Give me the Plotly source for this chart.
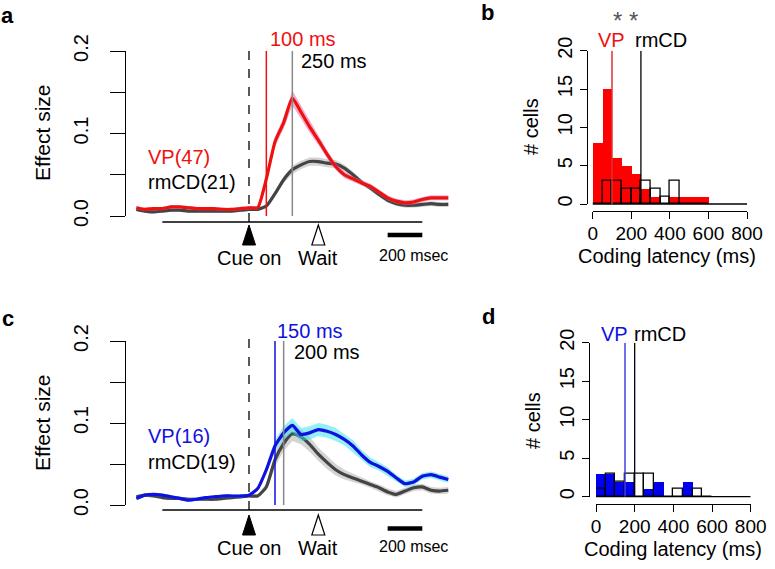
import plotly.graph_objects as go

W, H = 775, 569
FONT = "Liberation Sans, Arial, sans-serif"

# ---- time courses (panels a, c), sampled every 50 ms around cue onset
time_ms = list(range(-650, 1151, 50))

vp_a = [0.010, 0.008, 0.009, 0.009, 0.011, 0.011, 0.010, 0.009, 0.009, 0.009,
        0.008, 0.008, 0.009, 0.010, 0.010, 0.045, 0.090, 0.113, 0.143, 0.126,
        0.108, 0.092, 0.075, 0.060, 0.050, 0.045, 0.040, 0.036, 0.029, 0.022,
        0.018, 0.016, 0.017, 0.020, 0.022, 0.022, 0.022]
vp_a_se = [0.002] * 15 + [0.004, 0.006, 0.007, 0.009, 0.008, 0.007, 0.006,
                          0.005, 0.004, 0.004, 0.003] + [0.003] * 11
rmcd_a = [0.008, 0.006, 0.005, 0.006, 0.007, 0.007, 0.006, 0.006, 0.006, 0.006,
          0.006, 0.006, 0.007, 0.008, 0.008, 0.012, 0.027, 0.044, 0.056, 0.062,
          0.066, 0.066, 0.064, 0.063, 0.058, 0.050, 0.041, 0.034, 0.026, 0.019,
          0.015, 0.013, 0.013, 0.014, 0.015, 0.014, 0.014]
rmcd_a_se = [0.002] * 15 + [0.002, 0.003, 0.004, 0.005, 0.005, 0.005, 0.005,
                            0.005, 0.005, 0.004, 0.004] + [0.003] * 11

vp_c = [0.008, 0.012, 0.013, 0.012, 0.010, 0.008, 0.006, 0.007, 0.009, 0.010,
        0.011, 0.011, 0.011, 0.012, 0.020, 0.043, 0.072, 0.088, 0.097, 0.086,
        0.088, 0.092, 0.090, 0.086, 0.080, 0.072, 0.061, 0.052, 0.047, 0.041,
        0.033, 0.026, 0.028, 0.035, 0.037, 0.034, 0.031]
vp_c_se = [0.002] * 15 + [0.004, 0.007, 0.008, 0.009, 0.008, 0.008, 0.008,
                          0.008, 0.008, 0.007, 0.007] + \
          [0.006, 0.006, 0.005, 0.005, 0.004, 0.004, 0.004, 0.004, 0.004, 0.004, 0.004]
rmcd_c = [0.010, 0.012, 0.011, 0.009, 0.008, 0.008, 0.007, 0.007, 0.007, 0.007,
          0.008, 0.009, 0.010, 0.011, 0.011, 0.022, 0.055, 0.075, 0.087, 0.083,
          0.074, 0.062, 0.052, 0.043, 0.037, 0.033, 0.029, 0.025, 0.021, 0.016,
          0.013, 0.017, 0.021, 0.022, 0.018, 0.017, 0.018]
rmcd_c_se = [0.002] * 15 + [0.004, 0.008, 0.009, 0.009, 0.009, 0.009, 0.008,
                            0.008, 0.007, 0.006, 0.005] + [0.004] * 11

# median coding latencies (ms) and task events
lat_vp_a, lat_rmcd_a = 100, 250
lat_vp_c, lat_rmcd_c = 150, 200
CUE_MS, WAIT_MS = 0, 400
TASK_START, TASK_END = -500, 1000
SCALE_BAR = (800, 1000)

# ---- latency histograms (panels b, d), 50 ms bins
bin_left = list(range(0, 600, 50))
vp_b_counts = [8, 15, 6, 5, 4, 2, 1, 0, 1, 1, 1, 1]
rmcd_b_counts = [0, 3, 3, 2, 2, 3, 2, 1, 3, 0, 0, 0]
vp_d_counts = [3, 3, 2, 2, 0, 1, 2, 0, 0, 2, 0, 0]
rmcd_d_counts = [1, 3, 2, 3, 3, 3, 0, 0, 1, 0, 1, 0]

RED = "#f01010"
BLUE = "#1010e0"
DGRAY = "#444444"


def fx(px):
    return px / W


def fy(py):
    return 1 - py / H


# horizontal geometry of the time-course panels
CUE_PX, PX_PER_MS = 249, 0.1733
XR = [-700, 1200]
X_DOM = [fx(CUE_PX + XR[0] * PX_PER_MS), fx(CUE_PX + XR[1] * PX_PER_MS)]

fig = go.Figure()


def band(x, y, se, color, xa, ya):
    up = [v + s for v, s in zip(y, se)]
    lo = [v - s for v, s in zip(y, se)]
    fig.add_trace(go.Scatter(
        x=x + x[::-1], y=up + lo[::-1], fill="toself", fillcolor=color,
        line=dict(width=0), mode="lines", hoverinfo="skip",
        showlegend=False, xaxis=xa, yaxis=ya))


def curve(x, y, color, width, xa, ya):
    fig.add_trace(go.Scatter(
        x=x, y=y, mode="lines", line=dict(color=color, width=width, shape="spline", smoothing=0.5),
        showlegend=False, xaxis=xa, yaxis=ya))


# panel a
band(time_ms, rmcd_a, rmcd_a_se, "rgba(170,170,170,0.5)", "x", "y")
curve(time_ms, rmcd_a, DGRAY, 3.2, "x", "y")
band(time_ms, vp_a, vp_a_se, "rgba(225,110,170,0.55)", "x", "y")
curve(time_ms, vp_a, RED, 3.2, "x", "y")

# panel c
band(time_ms, rmcd_c, rmcd_c_se, "rgba(170,170,170,0.5)", "x3", "y3")
curve(time_ms, rmcd_c, DGRAY, 3.2, "x3", "y3")
band(time_ms, vp_c, vp_c_se, "rgba(40,225,235,0.5)", "x3", "y3")
curve(time_ms, vp_c, BLUE, 3.2, "x3", "y3")

# panels b, d histograms
centers = [b + 25 for b in bin_left]
fig.add_trace(go.Bar(x=centers, y=vp_b_counts, width=50, marker=dict(color="#ff0000", line=dict(width=0)),
                     showlegend=False, xaxis="x2", yaxis="y2"))
fig.add_trace(go.Bar(x=centers, y=rmcd_b_counts, width=50,
                     marker=dict(color="rgba(0,0,0,0)", line=dict(color="black", width=1.3)),
                     showlegend=False, xaxis="x2", yaxis="y2"))
fig.add_trace(go.Bar(x=centers, y=vp_d_counts, width=50, marker=dict(color="#0000ee", line=dict(width=0)),
                     showlegend=False, xaxis="x4", yaxis="y4"))
fig.add_trace(go.Bar(x=centers, y=rmcd_d_counts, width=50,
                     marker=dict(color="rgba(0,0,0,0)", line=dict(color="black", width=1.3)),
                     showlegend=False, xaxis="x4", yaxis="y4"))

shapes = []
ann = []


def text(x, y, s, size=20, color="black", **kw):
    d = dict(x=fx(x), y=fy(y), xref="paper", yref="paper", text=s, showarrow=False,
             font=dict(family=FONT, size=size, color=color), xanchor="center", yanchor="middle")
    d.update(kw)
    ann.append(d)


def timecourse_decor(xr, yr, top, axis_py, tri_top, tri_bot, bar_py, lab_py,
                     lat_col_val, lat_gray_val, col):
    # task time line
    shapes.append(dict(type="line", xref=xr, yref="paper", x0=TASK_START, x1=TASK_END,
                       y0=fy(axis_py), y1=fy(axis_py), line=dict(color="black", width=1.3)))
    # cue onset dashed
    shapes.append(dict(type="line", xref=xr, yref="paper", x0=CUE_MS, x1=CUE_MS,
                       y0=fy(axis_py), y1=fy(top - 2), line=dict(color="black", width=1.3, dash="dash")))
    # latency markers
    shapes.append(dict(type="line", xref=xr, yref=yr, x0=lat_gray_val, x1=lat_gray_val,
                       y0=0, y1=0.2, line=dict(color="#888888", width=1.5)))
    shapes.append(dict(type="line", xref=xr, yref=yr, x0=lat_col_val, x1=lat_col_val,
                       y0=0, y1=0.2, line=dict(color=col, width=1.5)))
    hw = 6.5 / PX_PER_MS
    shapes.append(dict(type="path", xref=xr, yref="paper",
                       path=f"M {CUE_MS - hw} {fy(tri_bot)} L {CUE_MS + hw} {fy(tri_bot)} L {CUE_MS} {fy(tri_top)} Z",
                       fillcolor="black", line=dict(color="black", width=1)))
    shapes.append(dict(type="path", xref=xr, yref="paper",
                       path=f"M {WAIT_MS - hw} {fy(tri_bot)} L {WAIT_MS + hw} {fy(tri_bot)} L {WAIT_MS} {fy(tri_top)} Z",
                       fillcolor="white", line=dict(color="black", width=1.2)))
    shapes.append(dict(type="line", xref=xr, yref="paper", x0=SCALE_BAR[0], x1=SCALE_BAR[1],
                       y0=fy(bar_py), y1=fy(bar_py), line=dict(color="black", width=4.5)))
    text(CUE_PX, lab_py, "Cue on")
    text(CUE_PX + WAIT_MS * PX_PER_MS, lab_py, "Wait")
    text(413, lab_py - 2, "200 msec", size=16)


timecourse_decor("x", "y", 51, 222, 225, 245, 235, 258, lat_vp_a, lat_rmcd_a, RED)
timecourse_decor("x3", "y3", 341, 510, 515, 535, 528.5, 548, lat_vp_c, lat_rmcd_c, BLUE)

# histogram decorations
for xr, yr, bottom, cl, cv, gv in [("x2", "y2", 204, "#e03030", 100, 250),
                                   ("x4", "y4", 496.7, "#4040e0", 150, 200)]:
    shapes.append(dict(type="line", xref=xr, yref="paper", x0=0, x1=800, y0=fy(bottom), y1=fy(bottom),
                       line=dict(color="black", width=1.3)))
    shapes.append(dict(type="line", xref=xr, yref=yr, x0=gv, x1=gv, y0=0, y1=20,
                       line=dict(color="black", width=1.3), layer="above"))
    shapes.append(dict(type="line", xref=xr, yref=yr, x0=cv, x1=cv, y0=0, y1=20,
                       line=dict(color=cl, width=1.5), layer="above"))

# panel texts
text(7, 15, "<b>a</b>", size=22)
text(487, 13, "<b>b</b>", size=22)
text(8, 318, "<b>c</b>", size=22)
text(488, 316, "<b>d</b>", size=22)

text(42, 133, "Effect size", size=21, textangle=-90)
text(42, 423, "Effect size", size=21, textangle=-90)
text(303, 39, "100 ms", color=RED)
text(334, 61, "250 ms")
text(310, 331, "150 ms", color=BLUE)
text(327, 352, "200 ms")
text(146, 157, "VP(47)", color=RED, xanchor="left")
text(146, 182, "rmCD(21)", xanchor="left")
text(146, 436, "VP(16)", color=BLUE, xanchor="left")
text(146, 462, "rmCD(19)", xanchor="left")

text(531, 127, "# cells", textangle=-90)
text(533, 421, "# cells", textangle=-90)
text(667, 256, "Coding latency (ms)")
text(673, 549, "Coding latency (ms)")
text(611, 40, "VP", color=RED)
text(661, 40, "rmCD")
text(625, 21, "* *", color="#555555", size=24)
text(614, 334, "VP", color=BLUE)
text(660, 334, "rmCD")

tfont = dict(family=FONT, size=20, color="black")
ya_common = dict(range=[0, 0.2], anchor="free", showline=True, linecolor="black", linewidth=1.3,
                 ticks="outside", ticklen=15, tickwidth=1.3, tickcolor="black",
                 tickvals=[0, 0.05, 0.1, 0.15, 0.2], ticktext=["0.0", "", "0.1", "", "0.2"],
                 tickangle=-90, tickfont=tfont, showgrid=False, zeroline=False,
                 position=fx(125), ticklabelstandoff=14, automargin=False)
yh_common = dict(range=[0, 20], anchor="free", showline=True, linecolor="black", linewidth=1.3,
                 ticks="outside", ticklen=7, tickwidth=1.3, tickcolor="black",
                 tickvals=[0, 5, 10, 15, 20], tickangle=-90, tickfont=tfont,
                 showgrid=False, zeroline=False, automargin=False)
xh_common = dict(range=[0, 800], anchor="free", showline=True, linecolor="black", linewidth=1.3,
                 ticks="outside", ticklen=7, tickwidth=1.3, tickcolor="black",
                 tickvals=[0, 200, 400, 600, 800], tickfont=dict(family=FONT, size=19, color="black"),
                 ticklabelstandoff=-2, showgrid=False, zeroline=False, automargin=False)

fig.update_layout(
    template="none",
    width=W, height=H, autosize=False,
    margin=dict(l=0, r=0, t=0, b=0, pad=0),
    paper_bgcolor="white", plot_bgcolor="rgba(0,0,0,0)",
    font=dict(family=FONT, color="black"),
    barmode="overlay", bargap=0,
    xaxis=dict(domain=X_DOM, range=XR, visible=False, anchor="y", automargin=False),
    yaxis=dict(domain=[fy(216), fy(51)], **ya_common),
    xaxis3=dict(domain=X_DOM, range=XR, visible=False, anchor="y3", automargin=False),
    yaxis3=dict(domain=[fy(505), fy(341)], **ya_common),
    xaxis2=dict(domain=[fx(592.7), fx(747)], position=fy(210.7), **xh_common),
    yaxis2=dict(domain=[fy(204), fy(50.7)], position=fx(587.3), **yh_common),
    xaxis4=dict(domain=[fx(596), fx(750.7)], position=fy(504), **xh_common),
    yaxis4=dict(domain=[fy(496.7), fy(342.7)], position=fx(589.3), **yh_common),
    shapes=shapes, annotations=ann,
)

# the page body has a default 8px margin; drop it so the figure sits at the window origin
fig.write_html("out.html", config={"displayModeBar": False},
               post_script="document.body.style.margin='0px';")
